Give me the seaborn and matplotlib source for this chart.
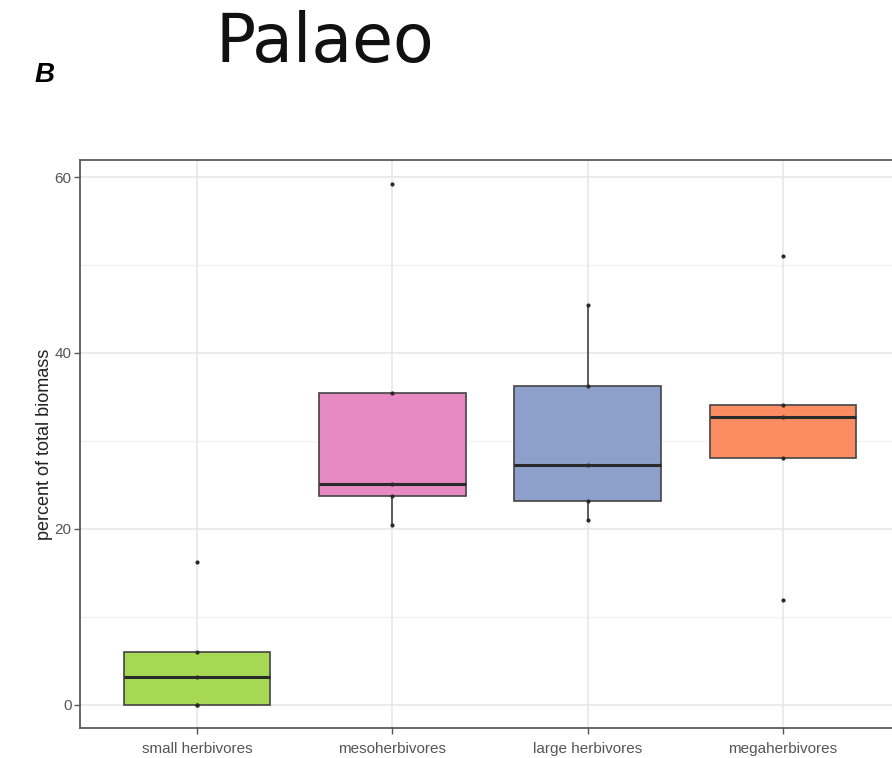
import matplotlib
matplotlib.use("Agg")
import matplotlib.pyplot as plt
import seaborn as sns
import pandas as pd
import numpy as np

# Share of total biomass per herbivore size class (palaeo sites)
groups = ["small herbivores", "mesoherbivores", "large herbivores", "megaherbivores"]
small_vals = [0.0, 0.0, 3.1, 5.95, 16.2]
meso_vals = [20.4, 23.7, 25.1, 35.4, 59.2]
large_vals = [21.0, 23.2, 27.3, 36.3, 45.5]
mega_vals = [11.9, 28.1, 32.7, 34.1, 51.0]
palette = ["#A6D854", "#E78AC3", "#8DA0CB", "#FC8D62"]
y_ticks = [0, 20, 40, 60]
y_minor = [10, 30, 50]

df = pd.DataFrame({
    "group": np.repeat(groups, [len(small_vals), len(meso_vals), len(large_vals), len(mega_vals)]),
    "value": small_vals + meso_vals + large_vals + mega_vals,
})

sns.set_theme(style="white")
plt.rcParams["font.family"] = ["Liberation Sans", "DejaVu Sans"]

fig = plt.figure(figsize=(8.92, 7.58), dpi=100)
W, H = 892, 758
ax = fig.add_axes([80 / W, (H - 728) / H, (900 - 80) / W, (728 - 160) / H])

# grid in the style of theme_bw
for v in y_minor:
    ax.axhline(v, color="#f3f3f3", lw=1.0, zorder=0)
for v in y_ticks:
    ax.axhline(v, color="#e8e8e8", lw=1.2, zorder=0)
for i in range(len(groups)):
    ax.axvline(i, color="#e8e8e8", lw=1.2, zorder=0)

sns.boxplot(
    data=df, x="group", y="value", hue="group", order=groups, hue_order=groups,
    palette=palette, saturation=1, width=0.75, showfliers=False, showcaps=False,
    legend=False, dodge=False, linewidth=1.2, linecolor="#444444", whis=1.5,
    medianprops={"color": "#2a2a2a", "linewidth": 2.2},
    boxprops={"zorder": 2}, ax=ax,
)
sns.stripplot(
    data=df, x="group", y="value", order=groups, jitter=False,
    color="#2a2a2a", size=3.0, ax=ax, zorder=5,
)

ax.set_xlim(-0.6, 3.6)
ax.set_ylim(-2.65, 61.95)
ax.set_yticks(y_ticks)
ax.set_yticklabels([str(v) for v in y_ticks])
ax.set_xlabel("")
ax.set_ylabel("percent of total biomass", fontsize=13, color="#222222", labelpad=1)
ax.tick_params(axis="both", which="major", length=4, width=1, color="#555555",
               labelsize=11, labelcolor="#555555", left=True, bottom=True, pad=2)
ax.tick_params(axis="x", pad=6)
for s in ax.spines.values():
    s.set_color("#5a5a5a")
    s.set_linewidth(1.3)
ax.grid(False)

fig.text(325 / W, 1 - 62 / H, "Palaeo", fontsize=48, ha="center", va="baseline",
         family=["DejaVu Sans"], fontweight="normal", color="#111111")
fig.text(35 / W, 1 - 75 / H, "B", fontsize=20, ha="left", va="center",
         fontweight="bold", fontstyle="italic", color="#000000")

fig.savefig("out.png", dpi=100)
